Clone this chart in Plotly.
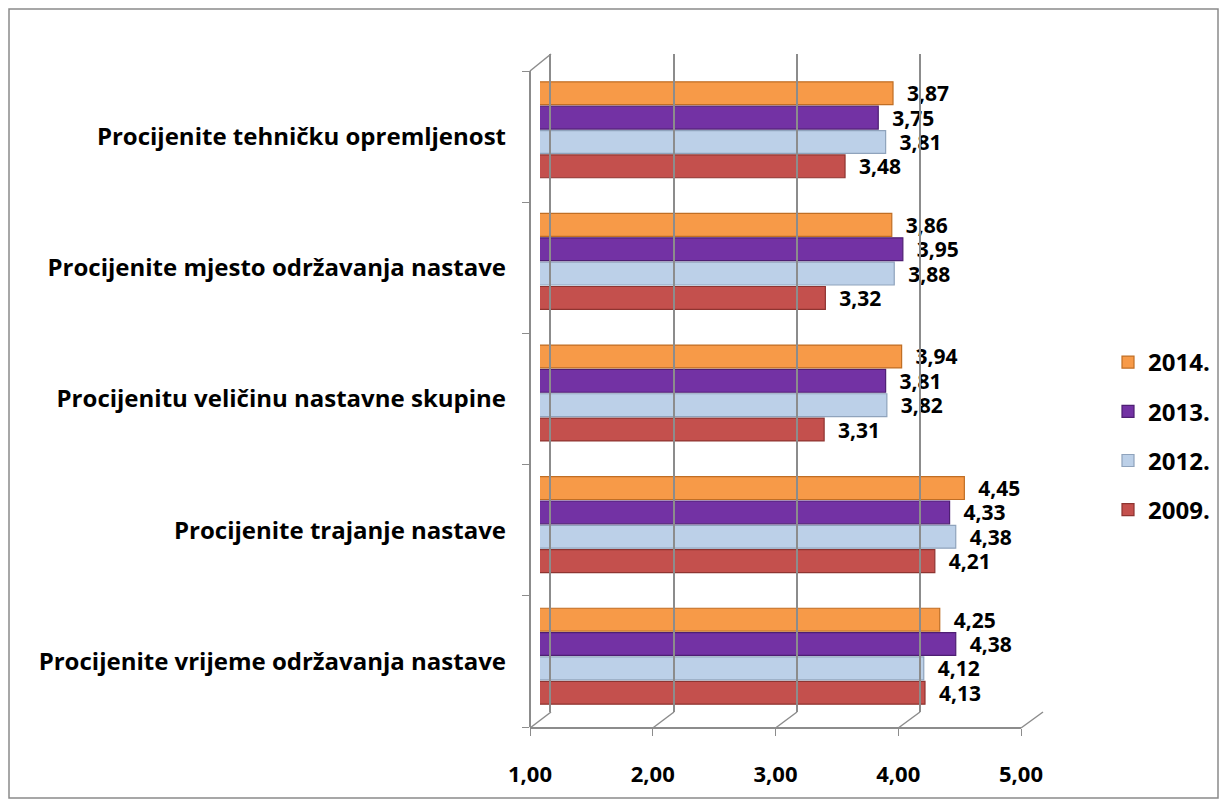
import plotly.graph_objects as go

categories = [
    "Procijenite vrijeme održavanja nastave",
    "Procijenite trajanje nastave",
    "Procijenitu veličinu nastavne skupine",
    "Procijenite mjesto održavanja nastave",
    "Procijenite tehničku opremljenost",
]
years = ["2009.", "2012.", "2013.", "2014."]
v2009 = [4.13, 4.21, 3.31, 3.32, 3.48]
v2012 = [4.12, 4.38, 3.82, 3.88, 3.81]
v2013 = [4.38, 4.33, 3.81, 3.95, 3.75]
v2014 = [4.25, 4.45, 3.94, 3.86, 3.87]
tick_vals = [1, 2, 3, 4, 5]

colors = ["#C4504D", "#BCD0E8", "#7332A4", "#F79A48"]
edge = ["#8E3431", "#8FA3BC", "#4E1F73", "#C06E24"]

# page has an 8px body margin: the figure is drawn 8px in from the top-left
OFF = 8
W, H = 1227 - 2 * OFF, 807 - 2 * OFF
L, R, T, B = 528, 1045, 50, 727  # plot area in page pixels
PW, PH = R - L, B - T

def px_x(p):
    return min(max((p - L) / PW, 0.0), 1.0)

def px_y(p):
    return min(max((B - p) / PH, 0.0), 1.0)

def pp_x(p):
    return (p - L) / PW

def pp_y(p):
    return (B - p) / PH

bar_x = (540, 1032)
front_x = (530, 1021)
back_x = (551, 1043)
bar_y = (64, 722)
label_y = (71, 727)
front_y = (71, 728)
back_y = (54, 712)

FONT = "Open Sans"
FS = 22
NB = "\u00a0\u00a0"
n = len(categories)
fig = go.Figure()
series = [v2009, v2012, v2013, v2014]
ranks = [4, 3, 2, 1]
for i, (yr, vals) in enumerate(zip(years, series)):
    fig.add_trace(go.Bar(
        y=categories, x=vals, orientation="h", name=yr,
        marker=dict(color=colors[i], line=dict(color=edge[i], width=1.2)),
        text=vals, texttemplate=NB + "%{x:.2f}", textposition="outside",
        textfont=dict(family=FONT, size=21, color="black", weight="bold"),
        constraintext="none", cliponaxis=False,
        legendgroup=yr, legendrank=ranks[i], xaxis="x", yaxis="y",
    ))

fig.add_trace(go.Scatter(x=[1, 5], y=[0, 5], xaxis="x2", yaxis="y3", mode="markers",
                         marker=dict(opacity=0), showlegend=False, hoverinfo="skip"))
fig.add_trace(go.Scatter(x=[1, 5], y=[0, 5], xaxis="x3", yaxis="y2", mode="markers",
                         marker=dict(opacity=0), showlegend=False, hoverinfo="skip"))
fig.add_trace(go.Scatter(x=[1] * n, y=categories, xaxis="x", yaxis="y4",
                         mode="markers", marker=dict(opacity=0), showlegend=False,
                         hoverinfo="skip"))

grid = "#8C8C8C"
fig.update_layout(
    width=W, height=H,
    margin=dict(l=L - OFF, r=(1227 - OFF) - R, t=T - OFF, b=(807 - OFF) - B,
                autoexpand=False),
    paper_bgcolor="white", plot_bgcolor="rgba(0,0,0,0)",
    separators=",.",
    barmode="group", bargap=0.26, bargroupgap=0.06,
    font=dict(family=FONT, size=FS, color="black"),
    xaxis=dict(domain=[px_x(bar_x[0]), px_x(bar_x[1])], range=[1, 5], anchor="y",
               showticklabels=False, showgrid=False, zeroline=False, showline=False),
    yaxis=dict(domain=[px_y(bar_y[1]), px_y(bar_y[0])], anchor="x",
               range=[-0.5, n - 0.5],
               categoryorder="array", categoryarray=categories,
               showgrid=False, zeroline=False, showline=False, ticks="",
               showticklabels=False),
    yaxis4=dict(domain=[px_y(label_y[1]), px_y(label_y[0])], anchor="free", position=0,
                range=[-0.5, n - 0.5],
                categoryorder="array", categoryarray=categories,
                showgrid=False, zeroline=False, showline=False, ticks="",
                ticklabelstandoff=22,
                tickfont=dict(family=FONT, size=24, color="black", weight="bold")),
    xaxis2=dict(domain=[px_x(front_x[0]), px_x(front_x[1])], range=[1, 5], anchor="y3",
                tickvals=tick_vals, tickformat=".2f", ticks="outside", ticklen=7,
                tickcolor=grid, showline=True, linecolor=grid, linewidth=1.5,
                showgrid=False, zeroline=False, ticklabelstandoff=20,
                tickfont=dict(family=FONT, size=FS, color="black", weight="bold")),
    yaxis3=dict(domain=[px_y(front_y[1]), px_y(front_y[0])], range=[0, 5], anchor="free",
                position=px_x(front_x[0]), tickvals=[0, 1, 2, 3, 4, 5], ticks="outside",
                ticklen=7, tickcolor=grid, showline=True, linecolor=grid, linewidth=1.5,
                showticklabels=False, showgrid=False, zeroline=False),
    xaxis3=dict(domain=[px_x(back_x[0]), px_x(back_x[1])], range=[1, 5], anchor="y2",
                tickvals=tick_vals, showticklabels=False, showgrid=True, gridcolor=grid,
                gridwidth=1.5, zeroline=False, showline=False, ticks=""),
    yaxis2=dict(domain=[px_y(back_y[1]), px_y(back_y[0])], range=[0, 5], anchor="x3",
                showticklabels=False, showgrid=False, zeroline=False,
                showline=True, linecolor=grid, linewidth=1.5, ticks=""),
    legend=dict(x=pp_x(1108), y=pp_y(340), xanchor="left", yanchor="top",
                traceorder="grouped", tracegroupgap=15,
                font=dict(family=FONT, size=24, color="black", weight="bold"),
                itemwidth=30),
    showlegend=True,
)

shapes = []
for v in tick_vals:
    fx = front_x[0] + (v - 1) / 4 * (front_x[1] - front_x[0])
    bx = back_x[0] + (v - 1) / 4 * (back_x[1] - back_x[0])
    shapes.append(dict(type="line", xref="paper", yref="paper",
                       x0=pp_x(fx), y0=pp_y(front_y[1]), x1=pp_x(bx), y1=pp_y(back_y[1]),
                       line=dict(color=grid, width=1.5)))
shapes.append(dict(type="line", xref="paper", yref="paper",
                   x0=pp_x(front_x[0]), y0=pp_y(front_y[0]), x1=pp_x(back_x[0]), y1=pp_y(back_y[0]),
                   line=dict(color=grid, width=1.5)))
shapes.append(dict(type="rect", xref="paper", yref="paper",
                   x0=pp_x(9), y0=pp_y(798), x1=pp_x(1218), y1=pp_y(9),
                   line=dict(color="#8A8A8A", width=1.5), layer="below"))
fig.update_layout(shapes=shapes)

fig.write_html("out.html")
